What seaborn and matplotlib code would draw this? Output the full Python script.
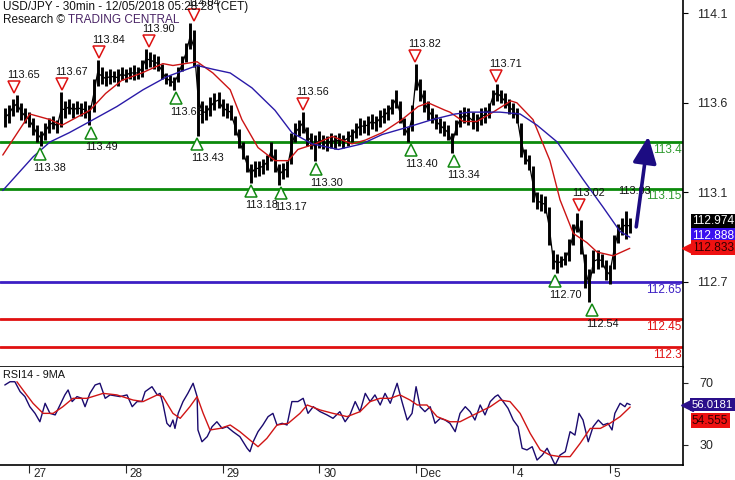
import numpy as np
import pandas as pd
import matplotlib
matplotlib.use("Agg")
import matplotlib.pyplot as plt
import matplotlib.transforms as mtransforms
import seaborn as sns

# ---------------- data ----------------
title_line1 = "USD/JPY - 30min - 12/05/2018 05:28:28 (CET)"
title_line2a = "Research © "
title_line2b = "TRADING CENTRAL"

# hourly bars, hours since 27 Nov 00:00 (trading time, weekend skipped)
bar_hours = list(range(-6, 150))
bar_low = [
    113.48, 113.50, 113.54, 113.56, 113.52, 113.50,
    113.48, 113.44, 113.40, 113.38, 113.41, 113.45, 113.47, 113.45, 113.48, 113.53, 113.55, 113.53,
    113.55, 113.54, 113.53, 113.49, 113.56, 113.70, 113.71, 113.70, 113.71, 113.72, 113.70, 113.73,
    113.72, 113.74, 113.73, 113.74, 113.75, 113.79, 113.80, 113.79, 113.78, 113.74, 113.71, 113.70,
    113.68, 113.72, 113.78, 113.83, 113.90, 113.80, 113.43, 113.50, 113.52, 113.54, 113.57, 113.58,
    113.54, 113.53, 113.52, 113.44, 113.37, 113.31, 113.24, 113.18, 113.21, 113.22, 113.23, 113.25,
    113.30, 113.24, 113.17, 113.20, 113.21, 113.28, 113.40, 113.43, 113.45, 113.38, 113.36, 113.30,
    113.37, 113.36, 113.35, 113.37, 113.36, 113.38, 113.37, 113.38, 113.40, 113.42, 113.44, 113.45,
    113.44, 113.47, 113.46, 113.48, 113.50, 113.52, 113.55, 113.58, 113.50, 113.44, 113.40, 113.46,
    113.68, 113.62, 113.56, 113.52, 113.50, 113.47, 113.45, 113.43, 113.41, 113.34, 113.44, 113.48,
    113.50, 113.49, 113.47, 113.46, 113.49, 113.50, 113.53, 113.60, 113.62, 113.61, 113.58, 113.55,
    113.53, 113.50, 113.32, 113.28, 113.25, 113.08, 113.04, 113.03, 113.02, 112.85, 112.72, 112.70,
    112.73, 112.74, 112.76, 112.85, 112.92, 112.80, 112.62, 112.54, 112.70, 112.72, 112.73, 112.66,
    112.64, 112.72, 112.86, 112.90, 112.88, 112.91,
]
bar_high = [
    113.58, 113.60, 113.63, 113.65, 113.61, 113.58,
    113.56, 113.53, 113.49, 113.46, 113.50, 113.53, 113.54, 113.52, 113.67, 113.62, 113.63, 113.61,
    113.62, 113.61, 113.62, 113.60, 113.74, 113.84, 113.80, 113.78, 113.79, 113.78, 113.79, 113.80,
    113.79, 113.80, 113.81, 113.80, 113.84, 113.90, 113.88, 113.87, 113.86, 113.82, 113.77, 113.76,
    113.75, 113.80, 113.86, 113.93, 114.04, 114.00, 113.82, 113.62, 113.60, 113.64, 113.66, 113.67,
    113.63, 113.61, 113.60, 113.54, 113.47, 113.40, 113.33, 113.28, 113.30, 113.30, 113.31, 113.33,
    113.40, 113.36, 113.28, 113.29, 113.30, 113.45, 113.50, 113.52, 113.56, 113.48, 113.45, 113.44,
    113.46, 113.44, 113.43, 113.45, 113.44, 113.45, 113.44, 113.46, 113.47, 113.50, 113.53, 113.52,
    113.54, 113.55, 113.54, 113.57, 113.58, 113.60, 113.63, 113.68, 113.62, 113.53, 113.48, 113.60,
    113.82, 113.74, 113.68, 113.62, 113.58, 113.55, 113.53, 113.51, 113.49, 113.45, 113.52, 113.57,
    113.59, 113.58, 113.56, 113.55, 113.58, 113.59, 113.61, 113.68, 113.71, 113.68, 113.66, 113.63,
    113.61, 113.58, 113.50, 113.36, 113.33, 113.27, 113.13, 113.12, 113.11, 113.05, 112.82, 112.80,
    112.79, 112.81, 112.88, 112.96, 113.02, 112.98, 112.80, 112.72, 112.82, 112.82, 112.80, 112.77,
    112.74, 112.90, 112.96, 112.99, 113.03, 112.99,
]

# moving averages (hour, value)
ma_fast = [(-6.5, 113.33), (0.2, 113.55), (5.2, 113.52), (8.2, 113.49), (15.1, 113.57),
           (19.0, 113.66), (23.0, 113.73), (28.0, 113.77), (33.2, 113.82), (35.7, 113.81),
           (41.7, 113.83), (45.6, 113.77), (49.9, 113.68), (52.8, 113.52), (56.8, 113.37),
           (61.0, 113.30), (64.3, 113.30), (66.7, 113.36), (71.0, 113.39), (75.2, 113.43),
           (80.1, 113.39), (83.4, 113.41), (87.6, 113.45), (92.5, 113.52), (96.5, 113.59),
           (99.0, 113.61), (103.2, 113.57), (104.4, 113.56), (107.7, 113.51), (111.1, 113.51),
           (115.1, 113.56), (119.5, 113.62), (121.0, 113.61), (125.0, 113.52), (129.2, 113.30),
           (131.7, 113.09), (135.0, 112.91), (138.4, 112.86), (140.9, 112.81), (144.9, 112.79),
           (149.0, 112.83)]
ma_slow = [(-6.5, 113.14), (1.0, 113.32), (5.2, 113.40), (10.0, 113.45), (15.1, 113.51),
           (21.8, 113.59), (28.3, 113.68), (34.2, 113.75), (41.7, 113.81), (45.6, 113.79),
           (49.9, 113.77), (55.3, 113.69), (61.0, 113.57), (65.2, 113.45), (70.2, 113.39),
           (76.7, 113.36), (82.6, 113.39), (87.6, 113.44), (94.0, 113.48), (100.0, 113.52),
           (105.7, 113.55), (109.4, 113.56), (116.8, 113.56), (121.8, 113.55), (126.0, 113.49),
           (131.0, 113.40), (137.4, 113.20), (142.4, 113.05), (146.6, 112.92), (149.0, 112.89)]

# pivots
pivot_high_h = [-3.7, 8.2, 17.4, 29.8, 40.9, 68.0, 95.8, 115.8, 136.4, 147.9]
pivot_high_v = [113.65, 113.67, 113.84, 113.90, 114.04, 113.56, 113.82, 113.71, 113.02, 113.03]
pivot_high_marker = [True, True, True, True, True, True, True, True, True, False]
pivot_low_h = [2.7, 15.4, 36.5, 41.7, 55.1, 62.5, 71.2, 94.8, 105.4, 130.5, 139.7]
pivot_low_v = [113.38, 113.49, 113.68, 113.43, 113.18, 113.17, 113.30, 113.40, 113.34, 112.70, 112.54]

# key levels
level_values = [113.4, 113.15, 112.65, 112.45, 112.3]
level_labels = ["113.4", "113.15", "112.65", "112.45", "112.3"]
level_colors = ["#0b8a0b", "#0b8a0b", "#3c1fc4", "#e01010", "#e01010"]
level_text_colors = ["#2e9a2e", "#2e9a2e", "#3c1fc4", "#e01010", "#e01010"]

# forecast arrow
arrow_from = (150.6, 112.945)
arrow_to = (153.6, 113.43)

# right axis
price_ticks = [112.65, 113.13, 113.61, 114.09]
price_tick_labels = ["112.7", "113.1", "113.6", "114.1"]
last_close = 112.974
last_slow = 112.888
last_fast = 112.833

# x axis
day_hours = [0, 24, 48, 72, 96, 120, 144]
day_labels = ["27", "28", "29", "30", "Dec", "4", "5"]

# RSI
rsi_pts = [(-6.0, 68.7), (-4.7, 70.8), (-3.5, 70.8), (-2.2, 64.4), (-1.0, 61.2), (0.2, 54.7),
           (1.5, 50.4), (2.7, 45.0), (4.0, 56.9), (5.2, 50.4), (6.5, 49.4), (7.7, 55.8),
           (8.9, 62.3), (9.7, 65.5), (10.7, 58.0), (11.9, 61.2), (13.1, 60.1), (13.9, 54.7),
           (15.1, 63.3), (16.4, 68.7), (17.6, 69.8), (18.9, 60.1), (20.1, 62.3), (22.6, 61.2),
           (24.3, 62.3), (25.6, 54.7), (26.8, 58.0), (28.0, 58.0), (28.8, 64.4), (30.5, 67.6),
           (31.8, 62.3), (32.5, 63.3), (33.2, 56.9), (34.2, 44.0), (35.0, 41.8), (35.7, 46.1),
           (36.2, 40.7), (37.0, 50.4), (38.2, 58.0), (39.4, 63.3), (40.7, 69.8), (41.7, 61.2),
           (41.9, 39.7), (42.9, 32.1), (44.2, 35.4), (45.4, 41.8), (46.6, 45.0), (47.9, 40.7),
           (49.1, 41.8), (50.6, 38.6), (52.3, 35.4), (54.1, 27.9), (54.8, 25.7), (55.6, 32.1),
           (56.8, 38.6), (58.0, 42.9), (59.3, 48.3), (60.5, 50.4), (61.5, 42.9), (62.8, 44.0),
           (64.0, 42.9), (65.2, 58.0), (66.7, 58.0), (68.0, 60.1), (69.2, 50.4), (70.5, 54.7),
           (72.2, 51.5), (73.9, 49.4), (75.4, 47.2), (77.1, 51.5), (78.4, 45.0), (79.6, 49.4),
           (80.9, 58.0), (82.1, 51.5), (83.4, 63.3), (84.6, 58.0), (85.8, 62.3), (87.1, 55.8),
           (88.3, 63.3), (89.6, 56.9), (91.3, 69.8), (92.5, 58.0), (93.8, 46.1), (95.0, 50.4),
           (96.0, 67.6), (97.0, 54.7), (98.2, 51.5), (99.5, 54.7), (100.7, 44.0), (102.0, 47.2),
           (103.2, 46.1), (104.4, 44.0), (105.7, 38.6), (106.9, 50.4), (108.2, 54.7), (109.4, 51.5),
           (110.6, 46.1), (111.9, 55.8), (113.1, 49.4), (114.4, 58.0), (115.6, 61.2), (116.3, 62.3),
           (117.6, 58.0), (118.8, 53.7), (120.1, 46.1), (121.3, 41.8), (122.3, 27.9), (123.5, 26.8),
           (124.8, 28.9), (126.0, 20.3), (127.3, 23.5), (128.5, 27.9), (129.7, 21.4), (130.5, 17.1),
           (131.7, 23.5), (133.0, 25.7), (134.2, 38.6), (135.4, 36.4), (136.4, 50.4), (137.4, 46.1),
           (138.7, 32.1), (139.9, 41.8), (141.2, 46.1), (142.4, 42.9), (143.6, 44.0), (144.6, 39.7),
           (145.3, 50.4), (146.6, 56.9), (147.8, 54.7), (148.3, 56.9), (149.1, 56.0)]
rsi_ma_pts = [(-3.0, 70.8), (-1.5, 65.5), (1.0, 56.9), (3.5, 50.4), (6.0, 50.4), (8.4, 54.7),
              (10.9, 60.1), (14.4, 60.1), (18.4, 63.3), (21.8, 62.3), (25.8, 59.0), (28.3, 58.0),
              (31.8, 62.3), (33.2, 61.2), (35.7, 50.4), (37.5, 47.2), (39.9, 54.7), (41.7, 61.2),
              (43.2, 50.4), (44.9, 39.7), (47.4, 40.7), (49.9, 42.9), (52.3, 38.6), (54.8, 33.2),
              (56.8, 28.9), (59.0, 34.3), (61.5, 42.9), (64.3, 44.0), (67.2, 50.4), (69.0, 55.8),
              (72.2, 52.6), (75.4, 50.4), (78.9, 48.3), (82.1, 51.5), (84.6, 58.0), (87.1, 60.1),
              (89.6, 60.1), (92.0, 62.3), (94.5, 59.0), (96.3, 55.8), (98.7, 55.8), (101.2, 48.3),
              (104.4, 45.0), (106.9, 45.0), (109.4, 48.3), (111.9, 51.5), (114.4, 54.7), (116.8, 59.0),
              (119.3, 58.0), (121.8, 50.4), (124.3, 37.5), (126.8, 26.8), (129.2, 23.5), (131.7, 22.5),
              (134.2, 22.5), (136.7, 31.1), (139.2, 40.7), (141.7, 40.7), (144.1, 44.0), (146.6, 48.3),
              (149.1, 54.5)]
rsi_ticks = [30, 70]
last_rsi = "56.0181"
last_rsi_v = 56.0181
last_rsi_ma = "54.555"
last_rsi_ma_v = 54.555
rsi_label = "RSI14 - 9MA"

# ---------------- figure ----------------
sns.set_style("white")
plt.rcParams["font.family"] = ["Liberation Sans", "DejaVu Sans"]

W, H = 735, 480
fig = plt.figure(figsize=(W / 100, H / 100), dpi=100)
right_px = 683
ax = fig.add_axes([0, 1 - 367 / H, right_px / W, 367 / H])
axr = fig.add_axes([0, 1 - 465 / H, right_px / W, 98 / H], sharex=ax)

xmin, xmax = -7.19, 162.2
ax.set_xlim(xmin, xmax)
ax.set_ylim(112.194, 114.161)
axr.set_ylim(17.1, 80.3)

px = 1 / 100.0  # one pixel in inches

# levels
bt = mtransforms.blended_transform_factory(ax.transAxes, ax.transData)
for v, lab, c, tc in zip(level_values, level_labels, level_colors, level_text_colors):
    ax.axhline(v, color=c, lw=2, zorder=2)
    ax.annotate(lab, xy=(1.0, v), xycoords=bt,
                xytext=(-1, -1.2), textcoords="offset points", ha="right", va="top",
                color=tc, fontsize=8.5, zorder=6)

# bars (high-low) plus a thin trace through bar midpoints
bars = pd.DataFrame({"h": bar_hours, "lo": bar_low, "hi": bar_high})
bars["mid"] = (bars["lo"] + bars["hi"]) / 2
ax.vlines(bars["h"], bars["lo"], bars["hi"], color="black", lw=2.1, zorder=4)
sns.lineplot(data=bars, x="h", y="mid", ax=ax, color="black", lw=0.9, estimator=None, sort=False, zorder=4)

# moving averages via seaborn
df_fast = pd.DataFrame(ma_fast, columns=["h", "v"])
df_slow = pd.DataFrame(ma_slow, columns=["h", "v"])
sns.lineplot(data=df_fast, x="h", y="v", ax=ax, color="#cc1414", lw=1.0, estimator=None, sort=False, zorder=5)
sns.lineplot(data=df_slow, x="h", y="v", ax=ax, color="#2a1aa8", lw=1.0, estimator=None, sort=False, zorder=5)

# pivots
def off(dx, dy):
    return ax.transData + mtransforms.ScaledTranslation(dx * px, dy * px, fig.dpi_scale_trans)

for h, v, show in zip(pivot_high_h, pivot_high_v, pivot_high_marker):
    if show:
        ax.plot([h], [v], marker="v", ms=8, mfc="white", mec="#dd1111", mew=1.1,
                transform=off(0, 8), zorder=7, clip_on=False)
    ax.text(h, v, f"{v:.2f}", transform=off(9.5, 20), ha="center", va="center",
            fontsize=7.8, color="#111111", zorder=8, clip_on=False)
for h, v in zip(pivot_low_h, pivot_low_v):
    ax.plot([h], [v], marker="^", ms=8, mfc="white", mec="#118811", mew=1.1,
            transform=off(0, -8), zorder=7)
    ax.text(h, v, f"{v:.2f}", transform=off(10, -22), ha="center", va="center",
            fontsize=7.8, color="#111111", zorder=8)

# forecast arrow
ax.annotate("", xy=arrow_to, xytext=arrow_from,
            arrowprops=dict(arrowstyle="-|>,head_length=0.9,head_width=0.4", color="#1c0c82",
                            lw=2.6, mutation_scale=18, shrinkA=0, shrinkB=0), zorder=9)

# main axis styling
for s in ["left", "top"]:
    ax.spines[s].set_visible(False)
for s in ["right", "bottom"]:
    ax.spines[s].set_color("black")
    ax.spines[s].set_linewidth(1.2)
ax.yaxis.tick_right()
ax.set_yticks(price_ticks)
ax.set_yticklabels(price_tick_labels)
ax.tick_params(axis="y", direction="out", length=3.5, pad=6.5, labelsize=9, color="black", right=True, left=False)
ax.tick_params(axis="x", bottom=False, labelbottom=False)
ax.set_xlabel("")
ax.set_ylabel("")

# title
fig.text(3 / W, 1 - 7 / H, title_line1, ha="left", va="center", fontsize=8.5, color="#111111")
t1 = fig.text(3 / W, 1 - 20 / H, title_line2a, ha="left", va="center", fontsize=8.5, color="#111111")
fig.canvas.draw()
bb = t1.get_window_extent()
fig.text(bb.x1 / W, 1 - 20 / H, title_line2b, ha="left", va="center", fontsize=8.5, color="#4a2466")

# price tags
tag_x = 692 / right_px
tag_kw = dict(ha="left", va="center", fontsize=8.6, clip_on=False, zorder=10)
ax.text(tag_x, last_close, f"{last_close:.3f}", transform=bt, color="white",
        bbox=dict(boxstyle="square,pad=0.12", fc="black", ec="none"), **tag_kw)
ax.text(tag_x, last_slow, f"{last_slow:.3f}",
        transform=bt + mtransforms.ScaledTranslation(0, 2 * px, fig.dpi_scale_trans), color="white",
        bbox=dict(boxstyle="square,pad=0.12", fc="#3a10f0", ec="none"), **tag_kw)
ax.text(tag_x, last_fast, f"{last_fast:.3f}", transform=bt, color="#330000",
        bbox=dict(boxstyle="square,pad=0.12", fc="#ee1111", ec="none"), **tag_kw)
ax.plot([687.5 / right_px], [last_fast], marker="<", ms=8, color="#ee1111", transform=bt, clip_on=False, zorder=10)

# ---------------- RSI panel ----------------
df_rsi = pd.DataFrame(rsi_pts, columns=["h", "v"])
df_rsi_ma = pd.DataFrame(rsi_ma_pts, columns=["h", "v"])
sns.lineplot(data=df_rsi, x="h", y="v", ax=axr, color="#1a0a6e", lw=1.0, estimator=None, sort=False)
sns.lineplot(data=df_rsi_ma, x="h", y="v", ax=axr, color="#d01515", lw=1.0, estimator=None, sort=False)

for s in ["left", "top"]:
    axr.spines[s].set_visible(False)
for s in ["right", "bottom"]:
    axr.spines[s].set_color("black")
    axr.spines[s].set_linewidth(1.2)
axr.yaxis.tick_right()
axr.set_yticks(rsi_ticks)
axr.set_yticklabels([str(t) for t in rsi_ticks])
axr.tick_params(axis="y", direction="out", length=3.5, pad=8.5, labelsize=9, right=True, left=False)
axr.set_xticks(day_hours)
axr.set_xticklabels(day_labels)
axr.tick_params(axis="x", direction="out", length=6, pad=-1, labelsize=8.5, bottom=True)
for lab in axr.get_xticklabels():
    lab.set_horizontalalignment("left")
    lab.set_transform(lab.get_transform() + mtransforms.ScaledTranslation(4 * px, 4 * px, fig.dpi_scale_trans))
axr.set_xlabel("")
axr.set_ylabel("")
axr.set_xlim(xmin, xmax)

axr.text(3 / right_px, 1 - 8 / 98, rsi_label, transform=axr.transAxes, ha="left", va="center",
         fontsize=7.8, color="#111111")

btr = mtransforms.blended_transform_factory(axr.transAxes, axr.transData)
axr.plot([686.5 / right_px], [last_rsi_v], marker="<", ms=8, color="#2a0f8a", transform=btr, clip_on=False, zorder=10)
axr.text(692 / right_px, last_rsi_v, last_rsi, transform=btr, ha="left", va="center", fontsize=8.2, color="white",
         bbox=dict(boxstyle="square,pad=0.14", fc="#2a0f8a", ec="none"), clip_on=False, zorder=11)
axr.text(tag_x, last_rsi_ma_v, last_rsi_ma,
         transform=btr + mtransforms.ScaledTranslation(0, -14 * px, fig.dpi_scale_trans),
         ha="left", va="center", fontsize=8.6, color="#330000",
         bbox=dict(boxstyle="square,pad=0.12", fc="#ee1111", ec="none"), clip_on=False, zorder=10)

fig.savefig("out.png", dpi=100)
